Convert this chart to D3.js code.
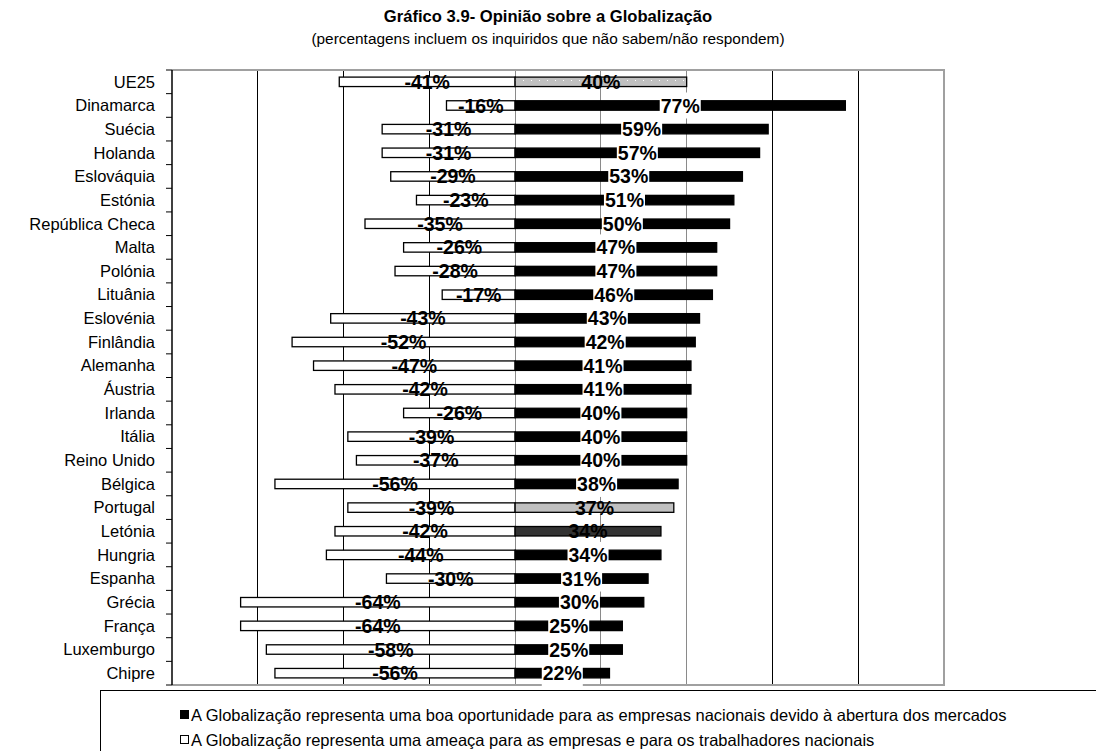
<!DOCTYPE html>
<html>
<head>
<meta charset="utf-8">
<script src="https://cdn.jsdelivr.net/npm/d3@7"></script>
<style>
  html, body { margin: 0; padding: 0; background: #fff; }
  svg { display: block; font-family: Arial, "Liberation Sans", sans-serif; }
</style>
</head>
<body>
<svg id="chart" width="1096" height="751"></svg>
<script>
const categories = ["UE25","Dinamarca","Suécia","Holanda","Eslováquia","Estónia","República Checa","Malta","Polónia","Lituânia","Eslovénia","Finlândia","Alemanha","Áustria","Irlanda","Itália","Reino Unido","Bélgica","Portugal","Letónia","Hungria","Espanha","Grécia","França","Luxemburgo","Chipre"];
const opportunity = [40,77,59,57,53,51,50,47,47,46,43,42,41,41,40,40,40,38,37,34,34,31,30,25,25,22];
const threat = [-41,-16,-31,-31,-29,-23,-35,-26,-28,-17,-43,-52,-47,-42,-26,-39,-37,-56,-39,-42,-44,-30,-64,-64,-58,-56];
const xTicks = [-80,-60,-40,-20,0,20,40,60,80,100];
const titleText = "Gráfico 3.9- Opinião sobre a Globalização";
const subtitleText = "(percentagens incluem os inquiridos que não sabem/não respondem)";
const legendLabels = [
  "A Globalização representa uma boa oportunidade para as empresas nacionais devido à abertura dos mercados",
  "A Globalização representa uma ameaça para as empresas e para os trabalhadores nacionais"
];

const svg = d3.select("#chart");
const L = 172, R = 944, T = 70, B = 685;

const x = d3.scaleLinear().domain([-80, 100]).range([L, R]);
const y = d3.scaleBand().domain(categories).range([T, B]).paddingInner(0.6).paddingOuter(0.3);

// pattern for UE25
const defs = svg.append("defs");
const pat = defs.append("pattern").attr("id", "dots").attr("patternUnits", "userSpaceOnUse")
  .attr("width", 8).attr("height", 6);
pat.append("rect").attr("width", 8).attr("height", 6).attr("fill", "#c0c0c0");
pat.append("rect").attr("x", 3).attr("y", 2).attr("width", 1).attr("height", 1).attr("fill", "#fff");

// title
svg.append("text").attr("x", 548).attr("y", 22).attr("text-anchor", "middle")
  .attr("font-weight", "bold").attr("font-size", 16.6).text(titleText);
svg.append("text").attr("x", 548).attr("y", 44).attr("text-anchor", "middle")
  .attr("font-size", 15.4).text(subtitleText);

// gridlines
const darkTicks = new Set([0, 20, 40]);
svg.append("g").selectAll("line").data(xTicks.filter(d => d > -80 && d < 100)).join("line")
  .attr("x1", d => x(d)).attr("x2", d => x(d)).attr("y1", T).attr("y2", B)
  .attr("stroke", d => darkTicks.has(d) ? "#8a8a8a" : "#000").attr("stroke-width", 1)
  .attr("shape-rendering", "crispEdges");

// plot border (top, right, bottom)
svg.append("path").attr("d", `M${L},${T}H${R}V${B}H${L}`).attr("fill", "none")
  .attr("stroke", "#a0a0a0").attr("stroke-width", 2);

// bars
function posFill(c) {
  if (c === "UE25") return "url(#dots)";
  if (c === "Portugal") return "#c0c0c0";
  if (c === "Letónia") return "#333333";
  return "#000";
}
const bw = y.bandwidth();
svg.append("g").selectAll("rect").data(categories).join("rect")
  .attr("x", (c, i) => x(threat[i])).attr("y", c => y(c))
  .attr("width", (c, i) => x(0) - x(threat[i])).attr("height", bw)
  .attr("fill", "#fff").attr("stroke", "#000").attr("stroke-width", 1.3);
svg.append("g").selectAll("rect").data(categories).join("rect")
  .attr("x", x(0)).attr("y", c => y(c))
  .attr("width", (c, i) => x(opportunity[i]) - x(0)).attr("height", bw)
  .attr("fill", c => posFill(c)).attr("stroke", "#000").attr("stroke-width", 1.3);

// y axis
const yAxisG = svg.append("g").attr("transform", `translate(${L},0)`);
yAxisG.append("line").attr("x1", 0).attr("x2", 0).attr("y1", T).attr("y2", B)
  .attr("stroke", "#000").attr("stroke-width", 1.5);
const step = y.step();
yAxisG.selectAll("line.tk").data(d3.range(categories.length + 1)).join("line").attr("class", "tk")
  .attr("x1", -6).attr("x2", 0).attr("y1", i => T + i * step).attr("y2", i => T + i * step)
  .attr("stroke", "#000").attr("stroke-width", 1);
yAxisG.selectAll("text").data(categories).join("text")
  .attr("x", -17).attr("y", c => y(c) + bw / 2).attr("dy", "0.35em")
  .attr("text-anchor", "end").attr("font-size", 16.5).text(c => c);

// value labels
const lab = svg.append("g").attr("font-weight", "bold").attr("font-size", 19.5).attr("text-anchor", "middle");
categories.forEach((c, i) => {
  const cy = y(c) + bw / 2;
  lab.append("text").attr("x", (x(threat[i]) + x(0)) / 2).attr("y", cy).attr("dy", "0.36em")
    .text(threat[i] + "%");
  const g = lab.append("g");
  const t = g.append("text").attr("x", (x(opportunity[i]) + x(0)) / 2).attr("y", cy).attr("dy", "0.36em")
    .text(opportunity[i] + "%");
  if (posFill(c) === "#000") {
    const bb = t.node().getBBox();
    g.insert("rect", "text").attr("x", bb.x - 1).attr("y", cy - 13).attr("width", bb.width + 2)
      .attr("height", 26).attr("fill", "#fff");
  }
});

// legend
const lg = svg.append("g");
lg.append("rect").attr("x", 100.5).attr("y", 690.5).attr("width", 1010).attr("height", 80)
  .attr("fill", "#fff").attr("stroke", "#000").attr("stroke-width", 1);
const legY = [715, 740];
legendLabels.forEach((t, i) => {
  lg.append("rect").attr("x", 180.5).attr("y", legY[i] - 4.5).attr("width", 8).attr("height", 8)
    .attr("fill", i === 0 ? "#000" : "#fff").attr("stroke", "#000").attr("stroke-width", 1);
  lg.append("text").attr("x", 191).attr("y", legY[i]).attr("dy", "0.35em")
    .attr("font-size", 16.5).text(t);
});
</script>
</body>
</html>
